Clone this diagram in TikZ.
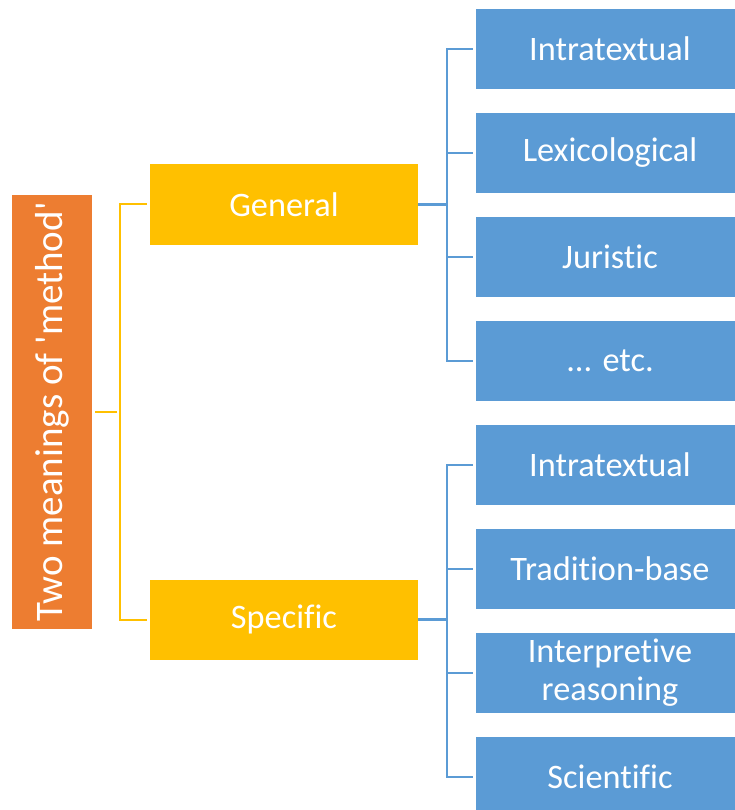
\documentclass[tikz,border=0pt]{standalone}
\usepackage{fontspec}
\setmainfont{Carlito}[Ligatures={NoCommon}]
\definecolor{rootorange}{HTML}{ED7D31}
\definecolor{midgold}{HTML}{FFC000}
\definecolor{leafblue}{HTML}{5B9BD5}
\begin{document}
\begin{tikzpicture}[x=1pt,y=1pt,
  box/.style={rectangle,inner sep=0pt,text=white,align=center,
    font=\fontsize{34.3}{38}\selectfont},
  rootbox/.style={box,fill=rootorange,minimum width=80pt,minimum height=433pt},
  midbox/.style={box,fill=midgold,minimum width=268pt,minimum height=80pt},
  leafbox/.style={box,fill=leafblue,minimum width=268pt,minimum height=80pt},
  goldline/.style={draw=midgold,line width=2pt,shorten <=3pt,shorten >=3pt},
  blueline/.style={draw=leafblue,line width=2.5pt,shorten >=3pt}]
\useasboundingbox (0,0) rectangle (735,-810);
\clip (0,0) rectangle (735,-810);

% root, rotated label
\node[rootbox] (root) at (52,-412) {};
\node[rotate=90,text=white,font=\fontsize{39}{42}\selectfont,inner sep=0pt] (rootlabel) at (root.center) {Two meanings of \textquotesingle method\textquotesingle};

% second level
\node[midbox] (gen) at (284,-204.5) {General};
\node[midbox] (spec) at (284,-619.5) {Specific};

% leaves
\node[leafbox] (g1) at (610,-49)  {Intratextual};
\node[leafbox] (g2) at (610,-153) {Lexicological};
\node[leafbox] (g3) at (610,-257) {Juristic};
\node[leafbox] (g4) at (610,-361) {... etc.};
\node[leafbox] (s1) at (610,-465) {Intratextual};
\node[leafbox] (s2) at (610,-569) {Tradition-base};
\node[leafbox] (s3) at (610,-673) {Interpretive\\reasoning};
\node[leafbox] (s4) at (610,-777) {Scientific};

% connectors
\coordinate (rj) at (120,-412);
\draw[goldline] (root.east) -- (rj);
\draw[goldline,shorten <=0pt] (rj) |- (gen.west);
\draw[goldline,shorten <=0pt] (rj) |- (spec.west);

\coordinate (gj) at (447,-204.5);
\draw[blueline,shorten >=0pt] (gen.east) -- (gj);
\foreach \n in {g1,g2,g3,g4} \draw[blueline] (gj) |- (\n.west);

\coordinate (sj) at (447,-619.5);
\draw[blueline,shorten >=0pt] (spec.east) -- (sj);
\foreach \n in {s1,s2,s3,s4} \draw[blueline] (sj) |- (\n.west);
\end{tikzpicture}
\end{document}
